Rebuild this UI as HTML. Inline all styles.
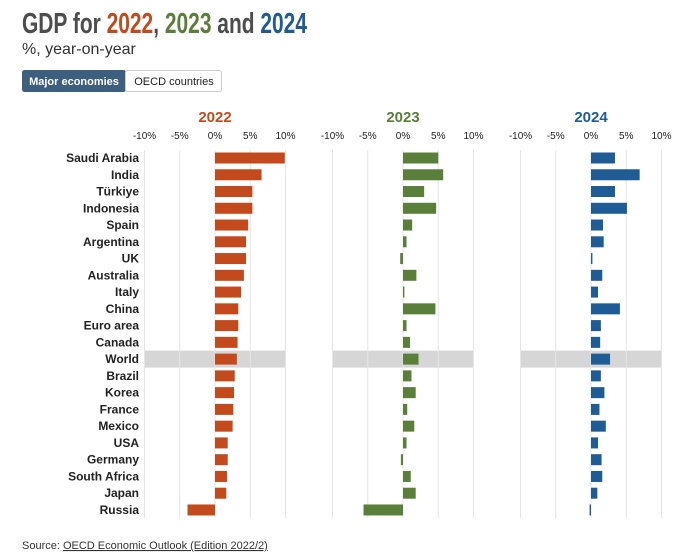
<!DOCTYPE html>
<html><head><meta charset="utf-8"><style>
body{margin:0;background:#fff;font-family:"Liberation Sans",sans-serif;}
#wrap{position:relative;width:700px;height:558px;overflow:hidden;}
</style></head><body>
<div id="wrap">
<svg id="chart" width="700" height="558">
<text x="22" y="33" textLength="285" lengthAdjust="spacingAndGlyphs" font-family="'Liberation Sans Narrow','Liberation Sans',sans-serif" font-weight="bold" font-size="29" fill="#4d4d4d">GDP for <tspan fill="#c24a1c">2022</tspan>, <tspan fill="#5a7f3a">2023</tspan> and <tspan fill="#1f5b94">2024</tspan></text>
<text x="22" y="54" font-size="16" fill="#333">%, year-on-year</text>
<g><rect x="22.5" y="70.5" width="103" height="21" rx="2" fill="#3c5f80" stroke="#3c5f80"/><text x="74" y="85" font-size="11" font-weight="bold" fill="#fff" text-anchor="middle">Major economies</text></g>
<g><rect x="125.5" y="70.5" width="96" height="21" rx="2" fill="#fff" stroke="#ccc"/><text x="174" y="85" font-size="11" fill="#222" text-anchor="middle">OECD countries</text></g>
<g id="plots"></g>
<text x="22" y="549" font-size="11" fill="#333">Source: <tspan text-decoration="underline">OECD Economic Outlook (Edition 2022/2)</tspan></text>
</svg>
</div>
<script>
const countries=["Saudi Arabia","India","Türkiye","Indonesia","Spain","Argentina","UK","Australia","Italy","China","Euro area","Canada","World","Brazil","Korea","France","Mexico","USA","Germany","South Africa","Japan","Russia"];
const years=["2022","2023","2024"];
const gdp2022=[9.9,6.6,5.3,5.3,4.7,4.4,4.4,4.1,3.7,3.3,3.3,3.2,3.1,2.8,2.7,2.6,2.5,1.8,1.8,1.7,1.6,-3.9];
const gdp2023=[5.0,5.7,3.0,4.7,1.3,0.5,-0.4,1.9,0.2,4.6,0.5,1.0,2.2,1.2,1.8,0.6,1.6,0.5,-0.3,1.1,1.8,-5.6];
const gdp2024=[3.4,6.9,3.4,5.1,1.7,1.8,0.2,1.6,1.0,4.1,1.4,1.3,2.7,1.4,1.9,1.2,2.1,1.0,1.5,1.6,0.9,-0.2];
const ticks=[-10,-5,0,5,10];
const tickLabels=["-10%","-5%","0%","5%","10%"];
const series=[gdp2022,gdp2023,gdp2024];
const colors=["#c24a1c","#5a7f3a","#1f5b94"];
const zeros=[215,403,591];
const NS="http://www.w3.org/2000/svg";
const g=document.getElementById('plots');
const pxPer=7.05;
function yRow(i){return 158+i*16.76;}
function mk(t,a,p){const e=document.createElementNS(NS,t);for(const k in a)e.setAttribute(k,a[k]);(p||g).appendChild(e);return e;}
countries.forEach((c,i)=>{
  const t=mk('text',{x:139,y:yRow(i)+4,'font-size':12,'font-weight':'bold',fill:'#222','text-anchor':'end'});
  t.textContent=c;
  
  
});
series.forEach((vals,s)=>{
  const z=zeros[s];
  const xs=v=>z+v*pxPer;
  const wi=countries.indexOf("World");
  const band=mk('rect',{x:xs(-10),y:yRow(wi)-8.5,width:xs(10)-xs(-10),height:17,fill:'#d6d6d6'});
  
  
  ticks.forEach((tk,k)=>{
    const l=mk('line',{x1:xs(tk),x2:xs(tk),y1:150,y2:518,stroke:'#e6e6e6','stroke-width':1});
    
    
    const tl=mk('text',{x:xs(tk),y:139,'font-size':10,fill:'#222','text-anchor':'middle'});
    tl.textContent=tickLabels[k];
    
    
  });
  const h=mk('text',{x:z,y:122,'font-size':15,'font-weight':'bold',fill:colors[s],'text-anchor':'middle'});
  h.textContent=years[s];
  
  
  vals.forEach((v,i)=>{
    const x0=Math.min(xs(0),xs(v)),w=Math.abs(xs(v)-xs(0));
    const b=mk('rect',{x:x0,y:yRow(i)-5.5,width:Math.max(w,1),height:11,fill:colors[s]});
    
    
  });
});
</script>
</body></html>
